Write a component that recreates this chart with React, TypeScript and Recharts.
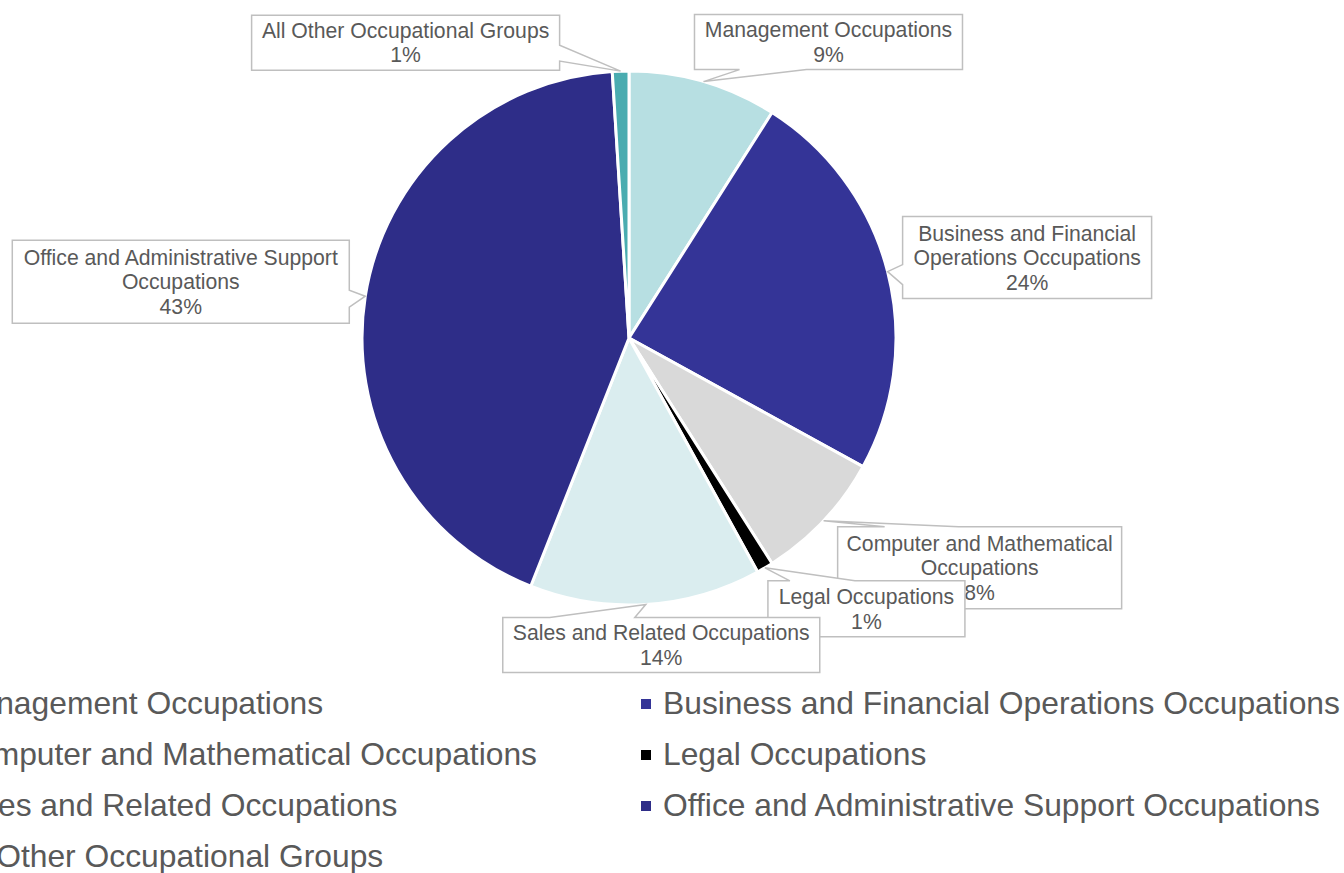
import { PieChart, Pie, Cell, Legend } from 'recharts';

// Occupational group shares (%), clockwise from 12 o'clock
const groups = [
    'Management Occupations',
    'Business and Financial Operations Occupations',
    'Computer and Mathematical Occupations',
    'Legal Occupations',
    'Sales and Related Occupations',
    'Office and Administrative Support Occupations',
    'All Other Occupational Groups',
];
const shares = [9, 24, 8, 1, 14, 43, 1];
const colors = ['#B7DFE2', '#343497', '#D9D9D9', '#000000', '#DAEDEF', '#2E2D88', '#4AACB0'];

// wrapped text for the callout labels
const labelLines = [
    ['Management Occupations'],
    ['Business and Financial', 'Operations Occupations'],
    ['Computer and Mathematical', 'Occupations'],
    ['Legal Occupations'],
    ['Sales and Related Occupations'],
    ['Office and Administrative Support', 'Occupations'],
    ['All Other Occupational Groups'],
];

const data = groups.map((name, i) => ({ name, value: shares[i] }));

// callout box placement relative to the slice edge point; wedge base offsets along one box side
const calloutLayout = [
    { dx: -9, dy: -67, w: 268, h: 55, side: 'bottom', b0: 45, b1: 112 },
    { dx: 15, dy: -55, w: 249, h: 82, side: 'left', b0: 48, b1: 68 },
    { dx: 14, dy: 6, w: 284, h: 82, side: 'top', b0: 47, b1: 121 },
    { dx: 3, dy: 13, w: 197, h: 56, side: 'top', b0: 22, b1: 87 },
    { dx: -143, dy: 13, w: 317, h: 55, side: 'top', b0: 47, b1: 132 },
    { dx: -353, dy: -56, w: 337, h: 83, side: 'right', b0: 50, b1: 67 },
    { dx: -369, dy: -56, w: 308, h: 55, side: 'right', b0: 30, b1: 46 },
];

const FONT = "'Liberation Sans', Arial, sans-serif";
const TEXT = '#595959';
const RADIAN = Math.PI / 180;

const renderCallout = (props: any) => {
    const { cx, cy, midAngle, outerRadius, index, value } = props;
    const ax = cx + outerRadius * Math.cos(-midAngle * RADIAN);
    const ay = cy + outerRadius * Math.sin(-midAngle * RADIAN);
    const l = calloutLayout[index];
    const x = ax + l.dx;
    const y = ay + l.dy;
    const { w, h } = l;
    const pts: number[][] = [[x, y]];
    if (l.side === 'top') pts.push([x + l.b0, y], [ax, ay], [x + l.b1, y]);
    pts.push([x + w, y]);
    if (l.side === 'right') pts.push([x + w, y + l.b0], [ax, ay], [x + w, y + l.b1]);
    pts.push([x + w, y + h]);
    if (l.side === 'bottom') pts.push([x + l.b1, y + h], [ax, ay], [x + l.b0, y + h]);
    pts.push([x, y + h]);
    if (l.side === 'left') pts.push([x, y + l.b1], [ax, ay], [x, y + l.b0]);
    const d = 'M' + pts.map((p) => `${p[0]},${p[1]}`).join('L') + 'Z';
    const lines = [...labelLines[index], `${value}%`];
    const lh = 24.5;
    return (
        <g key={`callout-${index}`}>
            <path d={d} fill="#fff" stroke="#BFBFBF" strokeWidth={1.5} />
            {lines.map((t, i) => (
                <text
                    key={i}
                    x={x + w / 2}
                    y={y + h / 2 + (i - (lines.length - 1) / 2) * lh}
                    textAnchor="middle"
                    dominantBaseline="central"
                    fontFamily={FONT}
                    fontSize={21.2}
                    fill={TEXT}
                >
                    {t}
                </text>
            ))}
        </g>
    );
};

// the left legend column runs past the left edge of the picture, as in the original
const renderLegend = () => (
    <div
        style={{
            display: 'grid',
            gridTemplateColumns: '711px 711px',
            fontFamily: FONT,
            fontSize: 31.8,
            color: TEXT,
        }}
    >
        {groups.map((g, i) => (
            <div key={g} style={{ display: 'flex', alignItems: 'center', height: 51, whiteSpace: 'nowrap' }}>
                <span style={{ width: 10, height: 10, background: colors[i], marginRight: 12, flex: 'none' }} />
                <span>{g}</span>
            </div>
        ))}
    </div>
);

export default function App() {
    return (
        <div style={{ position: 'absolute', left: 0, top: 0, width: 1344, height: 873, overflow: 'hidden', background: '#fff' }}>
            <PieChart width={1344} height={873} margin={{ top: 0, right: 0, bottom: 0, left: 0 }}>
                <Pie
                    data={data}
                    dataKey="value"
                    nameKey="name"
                    cx={629}
                    cy={338}
                    outerRadius={267}
                    startAngle={90}
                    endAngle={-270}
                    stroke="#fff"
                    strokeWidth={3}
                    label={renderCallout}
                    labelLine={false}
                    isAnimationActive={false}
                >
                    {data.map((d, i) => (
                        <Cell key={d.name} fill={colors[i]} />
                    ))}
                </Pie>
                <Legend
                    content={renderLegend}
                    wrapperStyle={{ left: -70, top: 678, width: 1440, bottom: 'auto' }}
                />
            </PieChart>
        </div>
    );
}
